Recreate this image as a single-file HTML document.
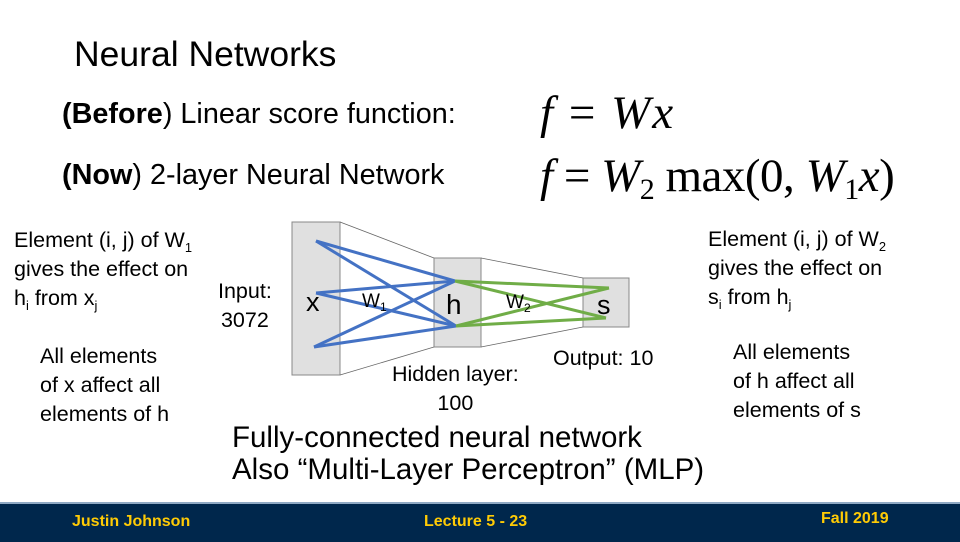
<!DOCTYPE html>
<html><head><meta charset="utf-8"><style>
body{margin:0;width:960px;height:540px;background:#fff;position:relative;overflow:hidden;font-family:"Liberation Sans",sans-serif;color:#000}
.t{position:absolute;white-space:nowrap}
.s{font-size:21.5px;line-height:29px}
.m{font-family:"Liberation Serif",serif;font-size:47px;position:absolute;white-space:nowrap;line-height:50px}
.m i{font-style:italic}
sub{font-size:60%;vertical-align:-5px;line-height:0}
.m sub{font-size:30px;vertical-align:-8px;font-style:normal}
</style></head><body>
<div class="t" style="left:74px;top:34px;font-size:35.5px;">Neural Networks</div>
<div class="t" style="left:62px;top:98px;font-size:28.8px;"><b>(Before</b>) Linear score function:</div>
<div class="t" style="left:62px;top:159px;font-size:28.8px;"><b>(Now</b>) 2-layer Neural Network</div>
<div class="m" style="left:540px;top:88px;letter-spacing:2px"><i>f</i> = <i>Wx</i></div>
<div class="m" style="left:540px;top:151px;letter-spacing:-0.5px"><i>f</i> = <i>W</i><sub>2</sub> max(0, <i>W</i><sub>1</sub><i>x</i>)</div>

<div class="t s" style="left:14px;top:226px;">Element (i, j) of W<sub>1</sub><br>gives the effect on<br>h<sub>i</sub> from x<sub>j</sub></div>
<div class="t s" style="left:218px;top:277px;text-align:center;">Input:<br>3072</div>
<div class="t s" style="left:40px;top:342px;">All elements<br>of x affect all<br>elements of h</div>
<div class="t s" style="left:708px;top:225px;">Element (i, j) of W<sub>2</sub><br>gives the effect on<br>s<sub>i</sub> from h<sub>j</sub></div>
<div class="t s" style="left:733px;top:338px;">All elements<br>of h affect all<br>elements of s</div>
<div class="t s" style="left:553px;top:344px;">Output: 10</div>
<div class="t s" style="left:392px;top:360px;text-align:center;">Hidden layer:<br>100</div>

<svg style="position:absolute;left:0;top:0" width="960" height="540">
<g fill="#e0e0e0" stroke="#888" stroke-width="1">
<rect x="292" y="222" width="48" height="153"/>
<rect x="434" y="258" width="47" height="89"/>
<rect x="583" y="278" width="46" height="49"/>
</g>
<g stroke="#666" stroke-width="0.8">
<line x1="340" y1="222" x2="434" y2="258"/><line x1="340" y1="375" x2="434" y2="347"/>
<line x1="481" y1="258" x2="583" y2="278"/><line x1="481" y1="347" x2="583" y2="327"/>
</g>
<g stroke="#4472c4" stroke-width="3" fill="none">
<line x1="316" y1="241" x2="455" y2="281"/><line x1="316" y1="241" x2="456" y2="326"/>
<line x1="316" y1="293" x2="455" y2="281"/><line x1="316" y1="293" x2="456" y2="326"/>
<line x1="314" y1="347" x2="455" y2="281"/><line x1="314" y1="347" x2="456" y2="326"/>
</g>
<g stroke="#70ad47" stroke-width="3">
<line x1="455" y1="281" x2="609" y2="288"/><line x1="455" y1="281" x2="606" y2="318"/>
<line x1="456" y1="326" x2="609" y2="288"/><line x1="456" y1="326" x2="606" y2="318"/>
</g>
<g font-family="Liberation Sans,sans-serif">
<text x="306" y="311" font-size="27">x</text>
<text x="446" y="314" font-size="28">h</text>
<text x="597" y="314" font-size="27">s</text>
<text x="362" y="307" font-size="19">W<tspan font-size="12" dy="4">1</tspan></text>
<text x="506" y="308" font-size="19">W<tspan font-size="12" dy="4">2</tspan></text>
</g>
</svg>

<div class="t" style="left:232px;top:422px;font-size:29.5px;line-height:32px;">Fully-connected neural network<br>Also “Multi-Layer Perceptron” (MLP)</div>

<div style="position:absolute;left:0;top:502px;width:960px;height:38px;background:#00274c;border-top:2px solid #8fa9c4;"></div>
<div class="t" style="left:72px;top:513px;font-size:16px;color:#ffcb05;font-weight:bold;">Justin Johnson</div>
<div class="t" style="left:424px;top:513px;font-size:16px;color:#ffcb05;font-weight:bold;">Lecture 5 - 23</div>
<div class="t" style="left:821px;top:510px;font-size:16px;color:#ffcb05;font-weight:bold;">Fall 2019</div>
</body></html>
